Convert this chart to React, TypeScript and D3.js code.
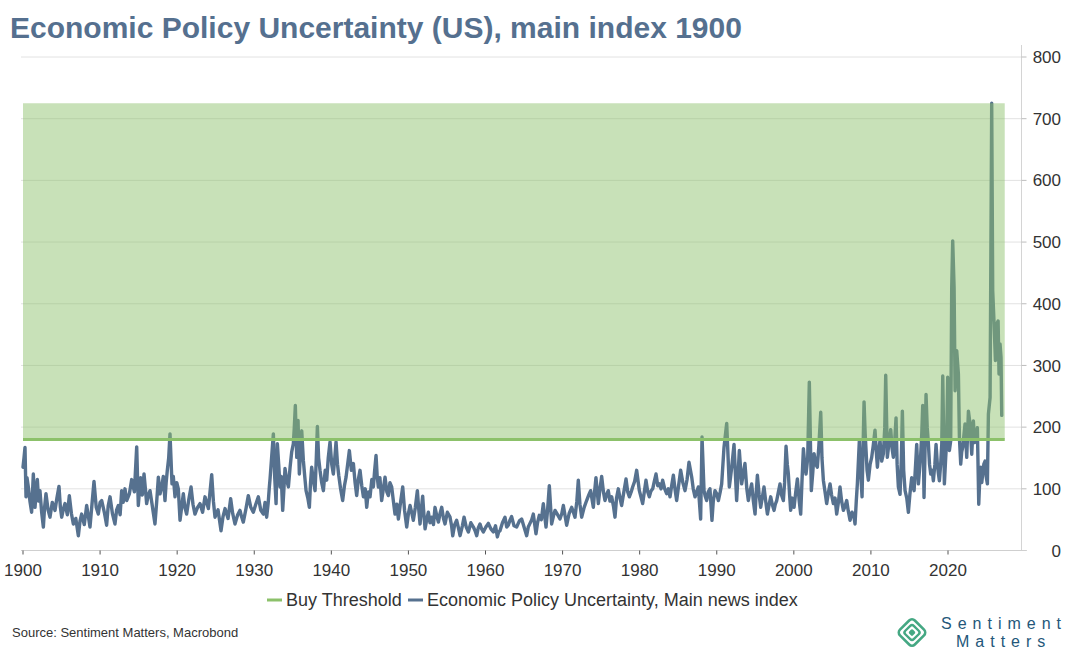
import React from "react";
import * as d3 from "d3";

const title = "Economic Policy Uncertainty (US), main index 1900";
const source = "Source: Sentiment Matters, Macrobond";
const legendLabels = ["Buy Threshold", "Economic Policy Uncertainty, Main news index"];
const threshold = 180;
const yTicks = [0, 100, 200, 300, 400, 500, 600, 700, 800];
const xTicks = [1900, 1910, 1920, 1930, 1940, 1950, 1960, 1970, 1980, 1990, 2000, 2010, 2020];

// [decimal year, index value]
const era1900: [number, number][] = [
  [1900.0, 135], [1900.13, 150], [1900.26, 167], [1900.39, 87], [1900.52, 118], [1900.69, 103], [1900.9, 80],
  [1901.12, 62], [1901.34, 124], [1901.56, 70], [1901.7, 95], [1901.86, 115], [1902.03, 80], [1902.2, 97],
  [1902.42, 62], [1902.64, 38], [1902.8, 70], [1902.98, 92], [1903.25, 66], [1903.5, 54], [1903.8, 78],
  [1904.15, 65], [1904.4, 85], [1904.67, 104], [1904.85, 70], [1905.02, 54], [1905.25, 68], [1905.45, 76],
  [1905.75, 58], [1906.01, 89], [1906.28, 60], [1906.53, 43], [1906.85, 52], [1907.18, 24], [1907.4, 48],
  [1907.61, 59], [1907.95, 42], [1908.26, 73], [1908.48, 55], [1908.69, 38], [1908.95, 75], [1909.21, 112],
  [1909.5, 70], [1909.77, 59], [1910.0, 78], [1910.21, 81], [1910.55, 62], [1910.85, 41], [1911.05, 72],
  [1911.29, 87], [1911.6, 60], [1911.93, 43], [1912.15, 66], [1912.37, 73], [1912.6, 58], [1912.8, 97],
  [1913.0, 78], [1913.23, 100], [1913.45, 81], [1913.8, 92], [1914.1, 115], [1914.45, 95], [1914.75, 168],
  [1914.96, 73], [1915.1, 95], [1915.26, 118], [1915.48, 90], [1915.7, 124], [1915.88, 100], [1916.04, 76],
  [1916.25, 90], [1916.48, 97], [1916.8, 70], [1917.12, 43], [1917.35, 80], [1917.56, 119], [1917.78, 92],
  [1917.99, 103], [1918.2, 120], [1918.42, 81], [1918.57, 110], [1918.72, 130], [1918.9, 150], [1919.07, 189],
  [1919.33, 108], [1919.5, 120], [1919.72, 87], [1919.95, 110], [1920.15, 100], [1920.37, 49], [1920.6, 72],
  [1920.8, 92], [1921.0, 70], [1921.23, 59], [1921.5, 82], [1921.8, 103], [1922.05, 75], [1922.31, 59],
  [1922.65, 70], [1922.96, 76], [1923.3, 62], [1923.61, 87], [1924.05, 68], [1924.48, 123], [1924.7, 80],
  [1924.91, 54], [1925.3, 66], [1925.69, 32], [1925.95, 55], [1926.21, 68], [1926.6, 52], [1926.94, 84],
  [1927.2, 60], [1927.5, 43], [1927.85, 58], [1928.15, 65], [1928.35, 55], [1928.58, 46], [1928.9, 66],
  [1929.23, 89], [1929.55, 70], [1929.88, 62], [1930.2, 75], [1930.53, 87], [1930.85, 65], [1931.18, 59],
  [1931.4, 78], [1931.61, 54], [1931.8, 76], [1931.96, 103],
];

const era1932: [number, number][] = [
  [1932.05, 116], [1932.25, 150], [1932.48, 189], [1932.65, 120], [1932.83, 76], [1933.0, 173], [1933.17, 140],
  [1933.34, 103], [1933.5, 120], [1933.69, 65], [1933.85, 100], [1933.99, 133], [1934.2, 115], [1934.43, 103],
  [1934.65, 135], [1934.86, 160], [1935.07, 173], [1935.2, 200], [1935.33, 235], [1935.51, 151], [1935.68, 211],
  [1935.85, 124], [1936.0, 160], [1936.16, 194], [1936.37, 146], [1936.55, 120], [1936.72, 97], [1936.95, 85],
  [1937.15, 70], [1937.3, 110], [1937.45, 135], [1937.65, 115], [1937.89, 97], [1938.05, 150], [1938.19, 201],
  [1938.35, 150], [1938.53, 130], [1938.75, 110], [1938.97, 97], [1939.2, 130], [1939.4, 114], [1939.6, 150],
  [1939.83, 176], [1940.05, 140], [1940.26, 124], [1940.45, 150], [1940.61, 176], [1940.8, 140], [1940.96, 122],
  [1941.2, 100], [1941.47, 81], [1941.7, 105], [1941.91, 119], [1942.12, 140], [1942.34, 162], [1942.6, 130],
  [1942.86, 141], [1943.08, 110], [1943.29, 89], [1943.5, 115], [1943.72, 130], [1943.95, 105], [1944.16, 87],
  [1944.4, 100], [1944.59, 70], [1944.8, 95], [1945.02, 87], [1945.25, 115], [1945.45, 103], [1945.62, 130],
  [1945.8, 154], [1945.95, 120], [1946.1, 103], [1946.3, 118], [1946.53, 81], [1946.75, 100], [1946.97, 119],
  [1947.2, 95], [1947.4, 89], [1947.6, 110], [1947.83, 103], [1948.05, 80], [1948.26, 59], [1948.5, 75],
  [1948.7, 51], [1949.0, 80], [1949.26, 103], [1949.5, 65], [1949.78, 38], [1950.0, 60], [1950.21, 73],
  [1950.45, 60], [1950.64, 49], [1950.9, 70], [1951.16, 97], [1951.35, 65], [1951.51, 43], [1951.7, 70],
  [1951.85, 88], [1952.0, 60], [1952.16, 35], [1952.4, 52], [1952.59, 62], [1952.8, 45], [1953.02, 54],
  [1953.25, 42], [1953.45, 70], [1953.7, 55], [1953.89, 46], [1954.1, 60], [1954.32, 70], [1954.55, 52],
  [1954.75, 43], [1955.05, 62], [1955.4, 54], [1955.6, 40], [1955.75, 24], [1956.0, 42], [1956.26, 49],
  [1956.5, 36], [1956.7, 24], [1957.0, 40], [1957.22, 54], [1957.5, 38], [1957.78, 30], [1958.1, 45],
  [1958.43, 38], [1958.65, 32], [1958.86, 24], [1959.05, 36], [1959.29, 43], [1959.5, 35], [1959.72, 30],
  [1960.05, 38], [1960.37, 44], [1960.7, 35], [1961.02, 30], [1961.3, 40], [1961.54, 22], [1961.7, 30],
  [1961.88, 32],
];

const era1962: [number, number][] = [
  [1962.2, 45], [1962.53, 54], [1962.75, 38], [1962.96, 41], [1963.2, 50], [1963.39, 55], [1963.7, 40],
  [1964.04, 38], [1964.4, 48], [1964.69, 51], [1965.0, 38], [1965.34, 24], [1965.55, 38], [1965.77, 44],
  [1966.0, 50], [1966.2, 59], [1966.55, 27], [1966.75, 45], [1966.98, 57], [1967.25, 50], [1967.5, 76],
  [1967.85, 38], [1968.05, 65], [1968.28, 105], [1968.58, 43], [1968.8, 55], [1969.02, 65], [1969.35, 58],
  [1969.66, 51], [1969.9, 60], [1970.1, 73], [1970.3, 58], [1970.53, 41], [1970.85, 60], [1971.18, 70],
  [1971.4, 62], [1971.61, 54], [1971.85, 80], [1972.04, 114], [1972.25, 75], [1972.48, 54], [1972.8, 70],
  [1973.12, 81], [1973.4, 90], [1973.64, 97], [1973.99, 70], [1974.15, 95], [1974.33, 118], [1974.64, 76],
  [1974.85, 100], [1975.07, 120], [1975.3, 95], [1975.5, 81], [1975.7, 90], [1975.93, 97], [1976.15, 80],
  [1976.37, 87], [1976.6, 72], [1976.8, 54], [1977.0, 85], [1977.23, 100], [1977.45, 85], [1977.66, 73],
  [1977.95, 95], [1978.23, 116], [1978.45, 95], [1978.66, 87], [1978.9, 95], [1979.09, 103], [1979.35, 112],
  [1979.61, 130], [1979.96, 97], [1980.15, 88], [1980.39, 76], [1980.6, 95], [1980.82, 114], [1981.05, 95],
  [1981.25, 87], [1981.45, 96], [1981.69, 100], [1981.9, 112], [1982.12, 124], [1982.35, 105], [1982.55, 108],
  [1982.78, 100], [1982.98, 114], [1983.25, 100], [1983.5, 92], [1983.72, 100], [1983.94, 87], [1984.15, 105],
  [1984.37, 122], [1984.6, 98], [1984.8, 81], [1985.05, 105], [1985.32, 130], [1985.6, 110], [1985.88, 97],
  [1986.15, 115], [1986.4, 143], [1986.75, 119], [1986.95, 100], [1987.18, 87], [1987.4, 95], [1987.61, 103],
  [1987.91, 51], [1988.09, 184], [1988.35, 97], [1988.5, 88], [1988.69, 81], [1988.9, 95], [1989.12, 100],
  [1989.38, 49], [1989.55, 80], [1989.77, 97], [1990.0, 92], [1990.21, 81], [1990.45, 95], [1990.64, 108],
  [1990.94, 167], [1991.29, 206], [1991.63, 103], [1991.8, 120], [1991.94, 135], [1992.24, 172], [1992.58, 81],
  [1992.75, 120], [1992.93, 162], [1993.23, 108], [1993.45, 125], [1993.66, 141], [1993.9, 100], [1994.1, 81],
];

const era1994: [number, number][] = [
  [1994.3, 95], [1994.53, 108], [1994.75, 80], [1994.97, 59], [1995.1, 90], [1995.27, 122], [1995.5, 90],
  [1995.7, 70], [1995.9, 85], [1996.13, 103], [1996.35, 80], [1996.57, 59], [1996.8, 75], [1997.0, 87],
  [1997.2, 75], [1997.43, 65], [1997.6, 75], [1997.78, 81], [1998.0, 95], [1998.21, 108], [1998.4, 90],
  [1998.64, 81], [1998.8, 110], [1998.99, 169], [1999.15, 140], [1999.29, 124], [1999.45, 90], [1999.59, 65],
  [1999.8, 85], [2000.03, 70], [2000.25, 95], [2000.46, 116], [2000.7, 80], [2000.89, 59], [2001.05, 110],
  [2001.24, 165], [2001.42, 140], [2001.58, 124], [2001.8, 150], [2002.01, 273], [2002.27, 97], [2002.45, 125],
  [2002.62, 157], [2002.85, 140], [2003.05, 135], [2003.25, 170], [2003.49, 224], [2003.65, 150], [2003.83, 114],
  [2004.05, 95], [2004.26, 76], [2004.5, 95], [2004.7, 108], [2004.9, 90], [2005.13, 76], [2005.35, 85],
  [2005.56, 59], [2005.8, 80], [2005.99, 103], [2006.2, 80], [2006.43, 65], [2006.65, 72], [2006.86, 81],
  [2007.05, 65], [2007.29, 49], [2007.55, 62], [2007.81, 54], [2007.94, 43], [2008.1, 80], [2008.24, 108],
  [2008.5, 178], [2008.7, 120], [2008.85, 87], [2009.11, 241], [2009.25, 190], [2009.37, 162], [2009.5, 130],
  [2009.67, 114], [2009.9, 140], [2010.1, 151], [2010.3, 170], [2010.53, 195], [2010.7, 160], [2010.84, 135],
  [2011.0, 160], [2011.18, 178], [2011.4, 145], [2011.62, 157], [2011.8, 200], [2011.92, 284], [2012.13, 151],
  [2012.35, 175], [2012.57, 196], [2012.75, 165], [2012.91, 151], [2013.1, 180], [2013.26, 215], [2013.4, 140],
  [2013.56, 103], [2013.78, 91], [2013.95, 150], [2014.08, 226], [2014.25, 130], [2014.43, 97], [2014.65, 85],
  [2014.86, 62],
];

const era2015: [number, number][] = [
  [2015.05, 90], [2015.29, 118], [2015.6, 97], [2015.8, 140], [2015.94, 172], [2016.16, 108], [2016.3, 130],
  [2016.46, 156], [2016.6, 190], [2016.72, 235], [2016.89, 86], [2017.0, 150], [2017.15, 253], [2017.3, 200],
  [2017.46, 172], [2017.6, 140], [2017.76, 124], [2017.95, 130], [2018.1, 113], [2018.3, 140], [2018.45, 172],
  [2018.62, 140], [2018.75, 125], [2018.88, 113], [2019.05, 140], [2019.19, 172], [2019.32, 283], [2019.53, 108],
  [2019.7, 150], [2019.83, 178], [2019.96, 281], [2020.08, 200], [2020.18, 162], [2020.35, 178], [2020.48, 424],
  [2020.61, 502], [2020.79, 426], [2020.92, 259], [2021.13, 324], [2021.35, 286], [2021.48, 183], [2021.65, 140],
  [2021.78, 160], [2021.91, 167], [2022.05, 185], [2022.21, 205], [2022.43, 151], [2022.65, 226], [2022.86, 205],
  [2023.08, 156], [2023.29, 210], [2023.45, 175], [2023.64, 183], [2023.81, 199], [2023.99, 75], [2024.1, 110],
  [2024.25, 135], [2024.38, 110], [2024.5, 124], [2024.65, 140], [2024.81, 145], [2024.95, 120], [2025.11, 108],
  [2025.24, 221], [2025.46, 248], [2025.67, 725], [2025.8, 421], [2025.98, 367], [2026.15, 308], [2026.32, 367],
  [2026.5, 372], [2026.62, 286], [2026.75, 335], [2026.88, 313], [2026.97, 219],
];

const FONT = "Arial, 'Liberation Sans', Helvetica, sans-serif";
const LINE_COLOR = "#56718f";
const GREEN = "#8cc16a";

export default function App() {
  const W = 1072;
  const H = 660;
  const left = 21;
  const right = 1021.5;
  const x = d3.scaleLinear().domain([1900, 2020]).range([23, 948]);
  const y = d3.scaleLinear().domain([0, 800]).range([550.5, 57]);

  const data = [...era1900, ...era1932, ...era1962, ...era1994, ...era2015];
  const line = d3
    .line<[number, number]>()
    .x((p) => x(p[0]))
    .y((p) => y(p[1]));

  const maxV = d3.max(data, (p) => p[1]) as number;
  const [d0, d1] = d3.extent(data, (p) => p[0]) as [number, number];

  const legendY = 600;

  return (
    <svg
      width={W}
      height={H}
      style={{ position: "absolute", left: 0, top: 0, background: "#fff" }}
      fontFamily={FONT}
    >
      <rect x={0} y={0} width={W} height={H} fill="#fff" />
      <text x={10} y={38} fontSize={30} fontWeight="bold" fill="#55708f">
        {title}
      </text>

      {yTicks.map((t) => (
        <line
          key={"g" + t}
          x1={left}
          x2={right}
          y1={y(t)}
          y2={y(t)}
          stroke={t === 0 ? "#cfcfcf" : "#e2e2e2"}
          strokeWidth={1}
        />
      ))}
      <line x1={right} x2={right} y1={45} y2={y(0)} stroke="#d4d4d4" strokeWidth={1} />
      {yTicks.map((t) => (
        <g key={"yt" + t}>
          <line x1={right} x2={right + 5} y1={y(t)} y2={y(t)} stroke="#bdbdbd" strokeWidth={1} />
          <text x={1061} y={y(t)} dy="0.36em" textAnchor="end" fontSize={17} fill="#333">
            {t}
          </text>
        </g>
      ))}
      <line x1={left} x2={right + 5} y1={y(0)} y2={y(0)} stroke="#cfcfcf" strokeWidth={1} />
      {xTicks.map((t) => (
        <g key={"xt" + t}>
          <line x1={x(t)} x2={x(t)} y1={y(0)} y2={y(0) + 4} stroke="#555" strokeWidth={1} />
          <text x={x(t)} y={576} textAnchor="middle" fontSize={17} fill="#333">
            {t}
          </text>
        </g>
      ))}

      <path
        d={line(data) || ""}
        fill="none"
        stroke={LINE_COLOR}
        strokeWidth={3.4}
        strokeLinejoin="round"
        strokeLinecap="round"
      />
      <rect
        x={x(d0)}
        width={x(d1) - x(d0) + 3}
        y={y(maxV)}
        height={y(threshold) - y(maxV)}
        fill="rgb(140,193,106)"
        fillOpacity={0.48}
      />
      <line
        x1={x(d0)}
        x2={x(d1) + 3}
        y1={y(threshold)}
        y2={y(threshold)}
        stroke={GREEN}
        strokeWidth={3}
      />

      <line x1={267} x2={282} y1={legendY} y2={legendY} stroke={GREEN} strokeWidth={3} />
      <text x={286} y={legendY} dy="0.36em" fontSize={18} fill="#333">
        {legendLabels[0]}
      </text>
      <line x1={408} x2={423} y1={legendY} y2={legendY} stroke={LINE_COLOR} strokeWidth={3} />
      <text x={427} y={legendY} dy="0.36em" fontSize={18} fill="#333">
        {legendLabels[1]}
      </text>

      <text x={12} y={637} fontSize={13} fill="#333">
        {source}
      </text>

      <g transform="translate(912,632.5) rotate(45)" fill="none" stroke="#45a883">
        <rect x={-10.5} y={-10.5} width={21} height={21} rx={4} strokeWidth={2.6} />
        <rect x={-6} y={-6} width={12} height={12} rx={2.5} strokeWidth={2.4} />
        <rect x={-2.2} y={-2.2} width={4.4} height={4.4} rx={1} fill="#45a883" strokeWidth={1} />
      </g>
      <text x={941} y={629} fontSize={16} letterSpacing={6} fill="#24577a">
        Sentiment
      </text>
      <text x={956} y={647} fontSize={16} letterSpacing={6} fill="#24577a">
        Matters
      </text>
    </svg>
  );
}
